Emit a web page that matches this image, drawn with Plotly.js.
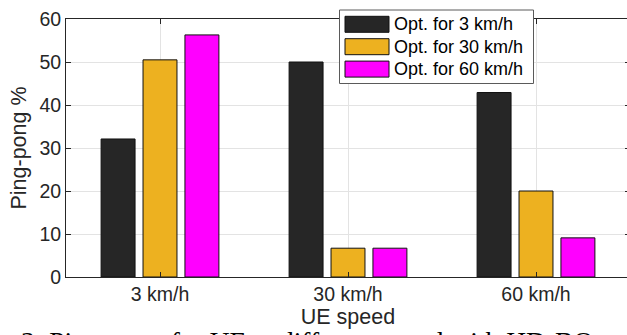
<!DOCTYPE html>
<html>
<head>
<meta charset="utf-8">
<script src="https://cdn.plot.ly/plotly-3.0.1.min.js"></script>
<style>
html,body{margin:0;padding:0;overflow:hidden;background:#fff;}
#chart{width:632px;height:335px;}
</style>
</head>
<body>
<div id="chart"></div>
<script>
// ---- data ----
const categories = ['3 km/h', '30 km/h', '60 km/h'];
const seriesNames = ['Opt. for 3 km/h', 'Opt. for 30 km/h', 'Opt. for 60 km/h'];
const optFor3 = [32.1, 50.0, 42.9];
const optFor30 = [50.5, 6.7, 20.0];
const optFor60 = [56.3, 6.7, 9.1];
const seriesColors = ['#262626', '#EDB120', '#FF00FF'];
const yTicks = [0, 10, 20, 30, 40, 50, 60];
const xTitle = 'UE speed';
const yTitle = 'Ping-pong %';
const caption = '3: Ping-pong for UE at different speed with HD-BO activated';

const seriesValues = [optFor3, optFor30, optFor60];

const FONT = 'Liberation Sans, Arial, Helvetica, sans-serif';
const SERIF = 'Liberation Serif, Times New Roman, serif';
const AX = '#262626';

const traces = seriesValues.map((vals, i) => ({
  type: 'bar',
  x: categories,
  y: vals,
  name: seriesNames[i],
  marker: {color: seriesColors[i], line: {color: '#111', width: 1}},
  showlegend: false,
  hoverinfo: 'skip'
}));

// layout geometry
const W = 632, H = 335;
const M = {l: 66, r: 2, t: 19, b: 58};
const PW = W - M.l - M.r, PH = H - M.t - M.b;
const px = v => (v - M.l) / PW;       // pixel -> paper x
const py = v => (H - M.b - v) / PH;   // pixel -> paper y

// custom legend (MATLAB style)
const shapes = [];
const annotations = [];
const legL = 339.5, legR = 533.5, legT = 10, legB = 83.5;
shapes.push({type: 'rect', xref: 'paper', yref: 'paper', layer: 'above',
  x0: px(legL), x1: px(legR), y0: py(legB), y1: py(legT),
  fillcolor: '#ffffff', line: {color: '#5a5a5a', width: 1}});
seriesNames.forEach((nm, i) => {
  const cy = 24.3 + i * 22.4;
  shapes.push({type: 'rect', xref: 'paper', yref: 'paper', layer: 'above',
    x0: px(345), x1: px(389), y0: py(cy + 8), y1: py(cy - 8),
    fillcolor: seriesColors[i], line: {color: '#111', width: 1}});
  annotations.push({xref: 'paper', yref: 'paper', x: px(392), y: py(cy),
    xanchor: 'left', yanchor: 'middle', text: nm, showarrow: false,
    font: {family: FONT, size: 18, color: '#000'}});
});
// caption (cut at the bottom of the picture)
annotations.push({xref: 'paper', yref: 'paper', x: px(19), y: py(341),
  xanchor: 'left', yanchor: 'middle', text: caption, showarrow: false,
  font: {family: SERIF, size: 27.5, color: '#000'}});

const layout = {
  width: W, height: H,
  margin: M,
  paper_bgcolor: '#fff', plot_bgcolor: '#fff',
  font: {family: FONT, color: AX, size: 19.5},
  barmode: 'group', bargap: 0.331, bargroupgap: 0.19,
  showlegend: false,
  xaxis: {
    type: 'category', categoryorder: 'array', categoryarray: categories,
    range: [-0.5, 2.5], showgrid: true, gridcolor: '#e3e3e3', gridwidth: 1,
    ticks: 'inside', ticklen: 5, tickcolor: AX, tickwidth: 1,
    showline: true, linecolor: AX, linewidth: 1, mirror: 'ticks',
    tickfont: {family: FONT, size: 19.5, color: AX},
    title: {text: xTitle, font: {family: FONT, size: 21.5, color: AX}, standoff: 0},
    fixedrange: true
  },
  yaxis: {
    range: [0, 60], tickvals: yTicks, ticktext: yTicks.map(String),
    showgrid: true, gridcolor: '#e3e3e3', gridwidth: 1, zeroline: false,
    ticks: 'inside', ticklen: 5, tickcolor: AX, tickwidth: 1,
    showline: true, linecolor: AX, linewidth: 1, mirror: 'ticks',
    tickfont: {family: FONT, size: 19.5, color: AX},
    title: {text: yTitle, font: {family: FONT, size: 21.5, color: AX}, standoff: 6},
    fixedrange: true
  },
  shapes: shapes,
  annotations: annotations
};

Plotly.newPlot('chart', traces, layout, {displayModeBar: false, staticPlot: true});
</script>
</body>
</html>
